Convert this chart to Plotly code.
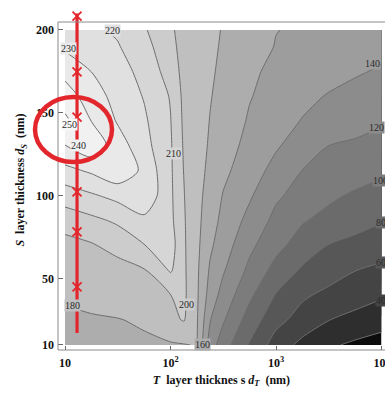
import math
import plotly.graph_objects as go

# ---------------- data ----------------
dT_nm = [10, 17.78, 31.62, 56.23, 100, 133.4, 177.8, 237.1, 316.2, 562.3, 1000, 1778, 3162, 5623, 10000]
dS_nm = [10, 25, 40, 55, 70, 85, 100, 115, 130, 145, 160, 175, 190, 200]

z_vals = [
    [170.0, 172.0, 174.0, 176.0, 178.0, 179.0, 181.0, 130.0, 109.0, 78.0, 51.0, 34.5, 22.8, 16.5, 12.0],
    [176.0, 177.5, 179.0, 183.0, 194.0, 201.5, 182.0, 141.0, 122.0, 91.0, 66.0, 52.0, 40.3, 34.0, 27.5],
    [182.7, 187.0, 191.3, 195.6, 199.8, 204.0, 183.0, 151.5, 132.3, 103.8, 78.6, 63.0, 55.0, 48.7, 42.5],
    [189.6, 192.8, 196.0, 199.2, 211.0, 203.5, 183.5, 157.4, 141.9, 115.1, 93.2, 77.1, 68.7, 60.3, 56.0],
    [196.5, 199.0, 203.6, 209.7, 214.0, 202.8, 184.7, 163.4, 149.4, 124.5, 105.7, 91.1, 79.1, 74.0, 68.7],
    [204.4, 207.6, 211.5, 217.5, 212.3, 202.0, 185.6, 168.2, 154.8, 133.9, 114.5, 101.6, 94.2, 87.7, 81.1],
    [214.6, 218.6, 223.0, 227.9, 211.9, 200.9, 186.3, 171.9, 158.8, 142.4, 123.1, 112.4, 103.5, 97.2, 92.7],
    [227.0, 231.4, 237.4, 227.8, 211.6, 199.8, 187.4, 175.4, 164.5, 148.6, 134.0, 119.6, 114.2, 108.9, 103.5],
    [239.5, 247.0, 234.9, 223.6, 211.2, 199.1, 188.2, 177.8, 168.8, 153.9, 142.0, 130.9, 119.8, 116.6, 113.1],
    [252.0, 239.9, 229.1, 221.6, 210.4, 198.4, 188.8, 179.4, 171.8, 157.9, 148.1, 139.0, 133.4, 127.8, 122.2],
    [245.5, 234.5, 226.7, 219.4, 209.3, 197.7, 189.3, 181.0, 174.2, 161.0, 152.8, 145.1, 138.6, 134.3, 130.1],
    [236.5, 229.9, 223.9, 217.0, 205.6, 197.0, 189.8, 182.5, 176.2, 162.3, 157.0, 152.0, 147.0, 142.0, 138.0],
    [228.4, 224.6, 220.7, 213.6, 202.9, 196.5, 190.1, 183.7, 177.9, 167.8, 159.2, 155.6, 152.1, 148.5, 145.0],
    [224.0, 221.8, 218.6, 211.1, 201.7, 196.1, 190.3, 184.4, 178.8, 169.6, 160.4, 157.6, 155.0, 152.5, 150.0],
]

# contour levels drawn as lines
levels_coarse = dict(start=20, end=200, size=20)
levels_fine = dict(start=210, end=250, size=10)

# contour labels
label_text = ["220", "230", "250", "240", "210", "200", "180", "160", "140", "120", "100", "80", "60", "40"]
label_dT = [28.5, 10.9, 11.1, 13.3, 105.7, 143.0, 11.9, 203.0, 8130.0, 8900.0, 9680.0, 9890.0, 9890.0, 9890.0]
label_dS = [199.4, 189.1, 143.3, 130.6, 125.8, 34.7, 34.1, 10.3, 180.0, 140.9, 109.5, 83.6, 59.5, 37.1]

# red marker line
red_dT = 13.0
red_line_dS = [17.2, 210.0]
red_marker_dS = [208.4, 174.7, 147.5, 102.3, 78.2, 45.0]

# ticks
x_tickvals = [10, 100, 1000, 10000]
x_ticktext = ["10", "10<sup>2</sup>", "10<sup>3</sup>", "10<sup>4</sup>"]
y_tickvals = [10, 50, 100, 150, 200]
y_ticktext = ["10", "50", "100", "150", "200"]

# ---------------- styling ----------------
band_edges = [20, 40, 60, 80, 100, 120, 140, 160, 180, 200, 210, 220, 230, 240, 250]
band_grays = ["#0c0c0c", "#2e2e2e", "#444444", "#575757", "#6b6b6b", "#7c7c7c", "#8c8c8c",
              "#9d9d9d", "#adadad", "#bfbfbf", "#cccccc", "#d6d6d6", "#e0e0e0", "#e9e9e9",
              "#f1f1f1", "#f8f8f8"]
fill_start, fill_end, fill_step = 20, 250, 10
lo = fill_start - fill_step / 2
hi = fill_end + fill_step / 2
cscale = [[0.0, band_grays[0]]]
for i, e in enumerate(band_edges):
    p = (e - lo) / (hi - lo)
    cscale.append([p, band_grays[i]])
    cscale.append([p, band_grays[i + 1]])
cscale.append([1.0, band_grays[-1]])


def band_color(v):
    for i, e in enumerate(band_edges):
        if v < e:
            return band_grays[i]
    return band_grays[-1]


SERIF = "Liberation Serif"
RED = "#e3262c"
LINE_GRAY = "#6e6e6e"
SMOOTH = 0.75

fig = go.Figure()
fig.add_trace(go.Contour(
    x=dT_nm, y=dS_nm, z=z_vals, autocontour=False,
    contours=dict(start=fill_start, end=fill_end, size=fill_step, coloring="fill", showlines=False),
    colorscale=cscale, showscale=False, line=dict(width=0, smoothing=SMOOTH), hoverinfo="skip",
))
for lv in (levels_coarse, levels_fine):
    fig.add_trace(go.Contour(
        x=dT_nm, y=dS_nm, z=z_vals, autocontour=False,
        contours=dict(start=lv["start"], end=lv["end"], size=lv["size"], coloring="none"),
        showscale=False, line=dict(color=LINE_GRAY, width=1, smoothing=SMOOTH), hoverinfo="skip",
    ))

fig.add_trace(go.Scatter(
    x=[red_dT, red_dT], y=red_line_dS, mode="lines",
    line=dict(color=RED, width=3.2), hoverinfo="skip", showlegend=False,
))
fig.add_trace(go.Scatter(
    x=[red_dT] * len(red_marker_dS), y=red_marker_dS, mode="markers",
    marker=dict(symbol="x-thin", size=9, line=dict(color=RED, width=1.8)),
    cliponaxis=False, hoverinfo="skip", showlegend=False,
))

annotations = []
for t, xv, yv in zip(label_text, label_dT, label_dS):
    annotations.append(dict(
        x=math.log10(xv), y=yv, xref="x", yref="y", text=t, showarrow=False,
        font=dict(family=SERIF, size=10, color="#2a2a2a"),
        bgcolor=band_color(float(t) + 5), borderpad=0,
    ))

frame_y = 0.9647
shapes = [
    dict(type="line", xref="paper", yref="paper", x0=0, x1=1, y0=0, y1=0,
         line=dict(color="#8a8a8a", width=1)),
    dict(type="line", xref="paper", yref="paper", x0=0, x1=0, y0=0, y1=frame_y,
         line=dict(color="#8a8a8a", width=1)),
    dict(type="line", xref="paper", yref="paper", x0=0, x1=1, y0=frame_y, y1=frame_y,
         line=dict(color="#8a8a8a", width=1)),
    dict(type="circle", xref="paper", yref="paper", x0=-0.0703, x1=0.1651, y0=0.5529, y1=0.7441,
         line=dict(color=RED, width=4.5), layer="above"),
]

tickfont = dict(family=SERIF, size=12, color="#111111", weight="bold")
fig.update_layout(
    width=385, height=395,
    margin=dict(l=58, r=0, t=10, b=45),
    paper_bgcolor="white", plot_bgcolor="white",
    showlegend=False,
    annotations=annotations, shapes=shapes,
    xaxis=dict(
        type="log", range=[0.9336, 4.0332], tickvals=x_tickvals, ticktext=x_ticktext,
        ticks="inside", ticklen=4, tickcolor="#666666", showline=False, showgrid=False,
        zeroline=False, tickfont=tickfont, automargin=False, ticklabelstandoff=4,
        ticklabeloverflow="allow",
        title=dict(text="<b><i>T</i>  layer thicknes s <i>d<sub>T</sub></i>  (nm)</b>",
                   font=dict(family=SERIF, size=12, color="#111111"), standoff=6),
    ),
    yaxis=dict(
        range=[6.98, 212.06], tickvals=y_tickvals, ticktext=y_ticktext,
        ticks="inside", ticklen=5, tickcolor="#666666", showline=False, showgrid=False,
        zeroline=False, tickfont=tickfont, automargin=False, ticklabelstandoff=3,
        ticklabeloverflow="allow",
        title=dict(text="<b><i>S</i>  layer thickness <i>d<sub>S</sub></i>  (nm)</b>",
                   font=dict(family=SERIF, size=12, color="#111111"), standoff=8),
    ),
)

fig.write_html("out.html")
